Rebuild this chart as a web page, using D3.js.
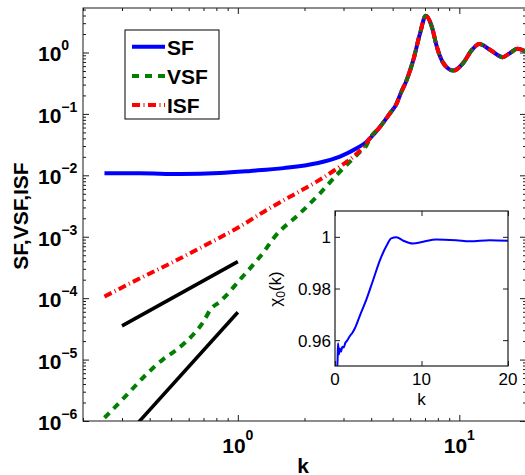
<!DOCTYPE html>
<html>
<head>
<meta charset="utf-8" />
<title>SF VSF ISF</title>
<script src="https://d3js.org/d3.v7.min.js"></script>
<style>
body { margin:0; background:white; }
text { font-family: "Liberation Sans", Arial, sans-serif; fill:black; }
.axis path { display:none; }
.axis line { stroke:#1a1a1a; stroke-width:1px; }
</style>
</head>
<body>
<div id=figure></div>
<script>

// low-k part of each series (before the curves merge)
var kSF   = [0.25, 0.36, 0.55, 0.83, 1.14, 1.61, 2.27, 2.89, 3.44, 3.82]
var sfLow = [0.0108, 0.0108, 0.0105, 0.0109, 0.0118, 0.0131, 0.0157, 0.0202, 0.0276, 0.0354]

var kVSF   = [0.25, 0.31, 0.375, 0.46, 0.52, 0.58, 0.64, 0.70, 0.75, 0.83, 0.92, 0.99, 1.33, 1.45, 1.91, 2.35, 2.80, 3.21, 3.57, 3.82]
var vsfLow = [1.13e-6, 2.49e-6, 5.15e-6, 1.01e-5, 1.38e-5, 1.91e-5, 2.74e-5, 4.14e-5, 6.43e-5, 8.77e-5, 1.28e-4, 1.75e-4, 6.1e-4, 9.46e-4, 2.41e-3, 5.1e-3, 0.0102, 0.0167, 0.0243, 0.0313]

var kISF   = [0.25, 0.36, 0.495, 0.676, 0.776, 1.02, 1.35, 1.78, 2.27, 2.89, 3.33, 3.75]
var isfLow = [1.06e-4, 2.09e-4, 3.67e-4, 6.57e-4, 8.55e-4, 1.46e-3, 2.73e-3, 4.8e-3, 7.9e-3, 0.0139, 0.0202, 0.0313]

// common tail, all three curves coincide here
var kTail = [3.95, 4.39, 4.87, 5.22, 5.40, 5.79, 6.20, 6.65, 7.05, 7.51, 7.91, 8.47, 9.40, 10.4, 11.4, 12.3, 13.8, 15.7, 16.9, 18.3, 20]
var sTail = [0.040, 0.062, 0.103, 0.149, 0.204, 0.358, 0.757, 2.06, 3.95, 2.64, 1.25, 0.67, 0.507, 0.67, 1.10, 1.38, 1.10, 0.84, 0.975, 1.15, 1.03]

// power law guide lines (k^2 and k^4)
var kGuide = [0.3, 1]
var guide2 = [3.54e-5, 3.93e-4]
var guide4 = [4.8e-7, 5.9e-5]

// inset chi_0(k)
var kChi = [0.2, 0.3, 0.35, 0.45, 0.55, 0.7, 0.85, 1.0, 1.2, 1.4, 1.7, 2.0, 2.3, 2.9, 3.6, 4.4, 5.2, 6.0, 6.5, 7.1, 7.9, 9.0, 10.2, 11.7, 14.0, 15.6, 17.9, 20]
var chi  = [0.946, 0.9525, 0.9588, 0.9545, 0.9568, 0.9555, 0.9575, 0.9572, 0.9590, 0.9598, 0.9615, 0.9628, 0.9646, 0.9697, 0.9755, 0.9832, 0.9910, 0.9968, 0.9994, 0.9998, 0.9985, 0.9974, 0.9981, 0.9990, 0.9987, 0.9983, 0.9987, 0.9985]

var xMajor = [1, 10]
var xMajorExp = ["0", "1"]
var yMajor = [1e-6, 1e-5, 1e-4, 1e-3, 1e-2, 1e-1, 1]
var yMajorExp = ["\u22126", "\u22125", "\u22124", "\u22123", "\u22122", "\u22121", "0"]
var insetXTicks = [0, 10, 20]
var insetYTicks = [0.96, 0.98, 1]
var insetYLabels = ["0.96", "0.98", "1"]

var legendNames = ["SF", "VSF", "ISF"]

var W = 525, H = 475
var plot = {left:83, right:526, top:8, bottom:421}

var svg = d3.select("#figure").append("svg")
	.attr("width", W)
	.attr("height", H)

svg.append("rect").attr("width", W).attr("height", H).attr("fill", "white")

var x = d3.scaleLog().domain([0.2, 20]).range([plot.left, plot.right])
var y = d3.scaleLog().domain([1e-6, 5.3]).range([plot.bottom, plot.top])

// minor tick positions (2..9 in every decade)
var xMinor = [], yMinor = []
for (var d = -1; d <= 1; d++) {
	for (var m = 2; m <= 9; m++) {
		var v = m * Math.pow(10, d)
		if (v >= 0.2 && v <= 20 ) xMinor.push(v)
	}
}
for (var d = -6; d <= 0; d++) {
	for (var m = 2; m <= 9; m++) {
		var v = m * Math.pow(10, d)
		if (v <= 5.3) yMinor.push(v)
	}
}

function drawTicks(g, axisFn, scale, vals, size, tr) {
	g.append("g")
		.attr("class", "axis")
		.attr("transform", tr)
		.call(axisFn(scale).tickValues(vals).tickSize(-size).tickSizeOuter(0).tickFormat(""))
}

var axes = svg.append("g")
drawTicks(axes, d3.axisBottom, x, xMajor, 6, "translate(0," + plot.bottom + ")")
drawTicks(axes, d3.axisBottom, x, xMinor, 3, "translate(0," + plot.bottom + ")")
drawTicks(axes, d3.axisTop, x, xMajor, 6, "translate(0," + plot.top + ")")
drawTicks(axes, d3.axisTop, x, xMinor, 3, "translate(0," + plot.top + ")")
drawTicks(axes, d3.axisLeft, y, yMajor, 6, "translate(" + plot.left + ",0)")
drawTicks(axes, d3.axisLeft, y, yMinor, 3, "translate(" + plot.left + ",0)")
drawTicks(axes, d3.axisRight, y, yMajor, 6, "translate(" + plot.right + ",0)")
drawTicks(axes, d3.axisRight, y, yMinor, 3, "translate(" + plot.right + ",0)")

svg.append("clipPath").attr("id", "clip")
	.append("rect")
	.attr("x", plot.left).attr("y", plot.top)
	.attr("width", plot.right - plot.left).attr("height", plot.bottom - plot.top)

var line = d3.line()
	.x(function(d) { return x(d[0]) })
	.y(function(d) { return y(d[1]) })
	.curve(d3.curveMonotoneX)

function series(ks, vs) {
	return ks.map(function(k, i) { return [k, vs[i]] })
}

var tail = series(kTail, sTail)
var styles = [
	{color:"#0000ff", dash:null},
	{color:"#007f00", dash:"7,6"},
	{color:"#ff0000", dash:"8,3.5,1,3.5"}
]
var curves = [
	series(kSF, sfLow).concat(tail),
	series(kVSF, vsfLow).concat(tail),
	series(kISF, isfLow).concat(tail)
]

var lines = svg.append("g").attr("clip-path", "url(#clip)")

curves.forEach(function(c, i) {
	lines.append("path")
		.datum(c)
		.attr("d", line)
		.attr("fill", "none")
		.attr("stroke", styles[i].color)
		.attr("stroke-width", 4)
		.attr("stroke-dasharray", styles[i].dash)
})

// guide lines
var straight = d3.line().x(function(d) { return x(d[0]) }).y(function(d) { return y(d[1]) })
;[guide2, guide4].forEach(function(g) {
	lines.append("path")
		.datum(series(kGuide, g))
		.attr("d", straight)
		.attr("fill", "none")
		.attr("stroke", "black")
		.attr("stroke-width", 3.5)
})

// frame
svg.append("rect")
	.attr("x", plot.left).attr("y", plot.top)
	.attr("width", plot.right - plot.left).attr("height", plot.bottom - plot.top)
	.attr("fill", "none").attr("stroke", "#1a1a1a").attr("stroke-width", 1)

// tick labels, 10 with a superscript
yMajor.forEach(function(v, i) {
	var t = svg.append("text")
		.attr("x", 38)
		.attr("y", y(v) + 9)
		.attr("font-size", 21)
		.attr("font-weight", "bold")
		.text("10")
	t.append("tspan")
		.attr("dy", -11)
		.attr("font-size", 14)
		.text(yMajorExp[i])
})

xMajor.forEach(function(v, i) {
	var t = svg.append("text")
		.attr("x", x(v))
		.attr("y", 453)
		.attr("font-size", 21)
		.attr("font-weight", "bold")
		.attr("text-anchor", "middle")
		.text("10")
	t.append("tspan")
		.attr("dy", -13)
		.attr("font-size", 14)
		.text(xMajorExp[i])
})

svg.append("text")
	.text("k")
	.attr("x", 303)
	.attr("y", 473)
	.attr("font-size", 21)
	.attr("font-weight", "bold")
	.attr("text-anchor", "middle")

svg.append("text")
	.text("SF,VSF,ISF")
	.attr("font-size", 21)
	.attr("font-weight", "bold")
	.attr("text-anchor", "middle")
	.attr("transform", "translate(28,216) rotate(-90)")

// legend
var legend = svg.append("g")
legend.append("rect")
	.attr("x", 125).attr("y", 30)
	.attr("width", 94).attr("height", 89)
	.attr("fill", "white").attr("stroke", "black").attr("stroke-width", 1)

legendNames.forEach(function(name, i) {
	var ly = 46.7 + i * 29.2
	legend.append("line")
		.attr("x1", 132).attr("x2", 165)
		.attr("y1", ly).attr("y2", ly)
		.attr("stroke", styles[i].color)
		.attr("stroke-width", 4)
		.attr("stroke-dasharray", styles[i].dash)
	legend.append("text")
		.text(name)
		.attr("x", 167)
		.attr("y", ly + 8)
		.attr("font-size", 21)
		.attr("font-weight", "bold")
})

// inset
var ins = {left:335, right:508, top:211, bottom:366}
var xi = d3.scaleLinear().domain([0, 20]).range([ins.left, ins.right])
var yi = d3.scaleLinear().domain([0.95, 1.01]).range([ins.bottom, ins.top])

var inset = svg.append("g")
inset.append("rect")
	.attr("x", ins.left).attr("y", ins.top)
	.attr("width", ins.right - ins.left).attr("height", ins.bottom - ins.top)
	.attr("fill", "white")

svg.append("clipPath").attr("id", "clip_inset")
	.append("rect")
	.attr("x", ins.left).attr("y", ins.top)
	.attr("width", ins.right - ins.left).attr("height", ins.bottom - ins.top)

inset.append("path")
	.datum(series(kChi, chi))
	.attr("clip-path", "url(#clip_inset)")
	.attr("d", d3.line().x(function(d) { return xi(d[0]) }).y(function(d) { return yi(d[1]) }).curve(d3.curveMonotoneX))
	.attr("fill", "none")
	.attr("stroke", "#0000ff")
	.attr("stroke-width", 2)

drawTicks(inset, d3.axisBottom, xi, insetXTicks, 5, "translate(0," + ins.bottom + ")")
drawTicks(inset, d3.axisTop, xi, insetXTicks, 5, "translate(0," + ins.top + ")")
drawTicks(inset, d3.axisLeft, yi, insetYTicks, 5, "translate(" + ins.left + ",0)")
drawTicks(inset, d3.axisRight, yi, insetYTicks, 5, "translate(" + ins.right + ",0)")

inset.append("rect")
	.attr("x", ins.left).attr("y", ins.top)
	.attr("width", ins.right - ins.left).attr("height", ins.bottom - ins.top)
	.attr("fill", "none").attr("stroke", "#1a1a1a").attr("stroke-width", 1.2)

insetXTicks.forEach(function(v) {
	inset.append("text")
		.text(v)
		.attr("x", xi(v))
		.attr("y", 385)
		.attr("font-size", 17)
		.attr("text-anchor", "middle")
})
insetYTicks.forEach(function(v, i) {
	inset.append("text")
		.text(insetYLabels[i])
		.attr("x", 331)
		.attr("y", yi(v) + 6.5)
		.attr("font-size", 17)
		.attr("text-anchor", "end")
})
inset.append("text")
	.text("k")
	.attr("x", xi(10))
	.attr("y", 405)
	.attr("font-size", 17)
	.attr("text-anchor", "middle")

var chiLabel = inset.append("text")
	.attr("font-size", 17)
	.attr("text-anchor", "middle")
	.attr("transform", "translate(281,289) rotate(-90)")
chiLabel.append("tspan").text("\u03c7")
chiLabel.append("tspan").attr("font-size", 12).attr("dy", 4).text("0")
chiLabel.append("tspan").attr("dy", -4).text("(k)")

</script>
</body>
</html>
